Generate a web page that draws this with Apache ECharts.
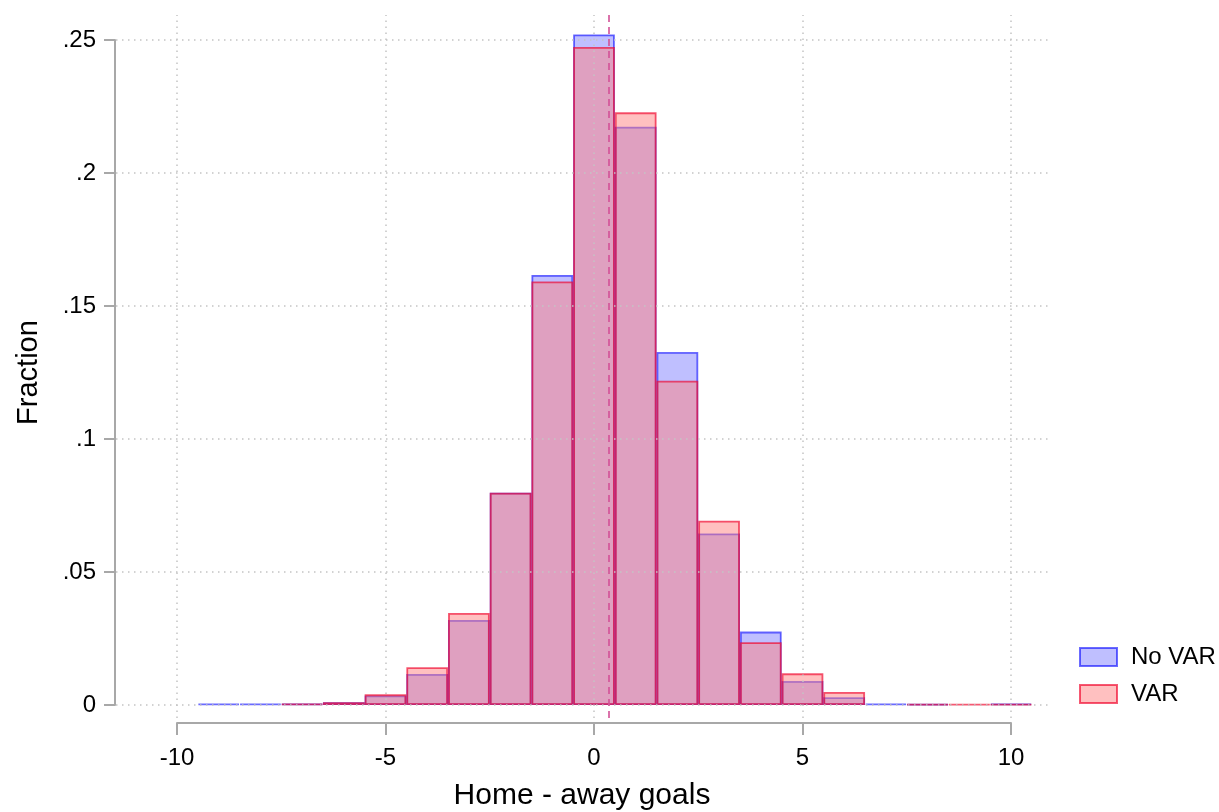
<!DOCTYPE html>
<html>
<head>
<meta charset="utf-8">
<script src="https://cdn.jsdelivr.net/npm/echarts@6/dist/echarts.min.js"></script>
<style>
html,body{margin:0;padding:0;background:#fff;}
#chart{width:1219px;height:812px;}
</style>
</head>
<body>
<div id="chart"></div>
<script>
// Bin centres (home - away goals)
const bins = [-9,-8,-7,-6,-5,-4,-3,-2,-1,0,1,2,3,4,5,6,7,8,9,10];
// Fractions per bin (0 = no bar)
const noVar = [0.0004,0.0004,0.0004,0.0010,0.0036,0.0117,0.0320,0.0798,0.1617,0.2521,0.2174,0.1327,0.0645,0.0276,0.0090,0.0029,0.0005,0.0003,0,0.0005];
const withVar = [0,0,0.0004,0.0010,0.0040,0.0142,0.0346,0.0798,0.1592,0.2474,0.2228,0.1219,0.0693,0.0236,0.0119,0.0049,0,0.0003,0.0003,0.0003];
const meanDiff = 0.36;
const xTicks = [-10,-5,0,5,10];
const yTicks = [0,0.05,0.1,0.15,0.2,0.25];

const pairs = (vals) => bins.map((b,i)=>[b, vals[i]]).filter(p=>p[1]>0);

const FONT = 'Liberation Sans, Arial, sans-serif';
const chart = echarts.init(document.getElementById('chart'), null, {renderer:'canvas'});

const dotted = {color:'#c4c4c4', width:1.5, type:[1.5,4.5]};
const axisGray = '#a8a8a8';

chart.setOption({
  animation:false,
  backgroundColor:'#fff',
  textStyle:{fontFamily:FONT},
  grid:[
    {left:116, right:171, top:15, bottom:94, containLabel:false, outerBoundsMode:'none'},
    {left:177, right:208, top:40, bottom:107, containLabel:false, outerBoundsMode:'none'}
  ],
  legend:{
    data:['No VAR','VAR'],
    orient:'vertical',
    left:1074, top:640,
    itemWidth:37, itemHeight:18, itemGap:13,
    icon:'rect',
    textStyle:{fontFamily:FONT, fontSize:24, color:'#000', padding:[0,0,0,9]}
  },
  xAxis:[
    {gridIndex:0, type:'value', min:-11.4628, max:10.8873,
     axisLine:{show:false}, axisTick:{show:false}, axisLabel:{show:false}, splitLine:{show:false},
     name:'Home - away goals', nameLocation:'middle', nameGap:63,
     nameTextStyle:{fontSize:30, color:'#000', fontFamily:FONT}},
    {gridIndex:1, type:'value', min:-10, max:10, interval:5, position:'bottom', offset:18,
     axisLine:{show:true, onZero:false, lineStyle:{color:axisGray, width:2}},
     axisTick:{show:true, length:12, lineStyle:{color:axisGray, width:2}},
     axisLabel:{margin:23, fontSize:24, color:'#000', fontFamily:FONT},
     splitLine:{show:false}}
  ],
  yAxis:[
    {gridIndex:0, type:'value', min:-0.004887, max:0.259398, show:false},
    {gridIndex:1, type:'value', min:0, max:0.25, interval:0.05, position:'left', offset:62,
     axisLine:{show:true, onZero:false, lineStyle:{color:axisGray, width:2}},
     axisTick:{show:true, length:11, lineStyle:{color:axisGray, width:2}},
     axisLabel:{margin:19, fontSize:24, color:'#000', fontFamily:FONT,
       formatter:(v)=>{ if (Math.abs(v)<1e-9) return '0'; return parseFloat(v.toFixed(2)).toString().replace(/^0\./,'.'); }},
     splitLine:{show:false},
     name:'Fraction', nameLocation:'middle', nameGap:72,
     nameTextStyle:{fontSize:29, color:'#000', fontFamily:FONT}}
  ],
  series:[
    {
      name:'grid', type:'line', xAxisIndex:0, yAxisIndex:0, data:[], z:0, silent:true,
      markLine:{
        silent:true, symbol:'none', label:{show:false}, animation:false,
        lineStyle:dotted,
        data: xTicks.map(v=>({xAxis:v})).concat(yTicks.map(v=>({yAxis:v})))
      }
    },
    {
      name:'No VAR', type:'bar', xAxisIndex:0, yAxisIndex:0, z:2,
      barWidth:41.7, barGap:'-100%', clip:false,
      itemStyle:{color:'rgba(0,0,255,0.25)', borderColor:'rgba(0,0,255,0.58)', borderWidth:1.8},
      data: pairs(noVar)
    },
    {
      name:'VAR', type:'bar', xAxisIndex:0, yAxisIndex:0, z:3,
      barWidth:41.7, barGap:'-100%', clip:false,
      itemStyle:{color:'rgba(255,129,129,0.5)', borderColor:'rgba(240,0,40,0.65)', borderWidth:1.8},
      data: pairs(withVar)
    },
    {
      name:'mean', type:'line', xAxisIndex:0, yAxisIndex:0, data:[], z:5, silent:true,
      markLine:{
        silent:true, symbol:'none', label:{show:false}, animation:false,
        lineStyle:{color:'rgba(210,80,150,0.8)', width:2, type:[7,5]},
        data:[{xAxis:meanDiff}]
      }
    }
  ]
});
</script>
</body>
</html>
